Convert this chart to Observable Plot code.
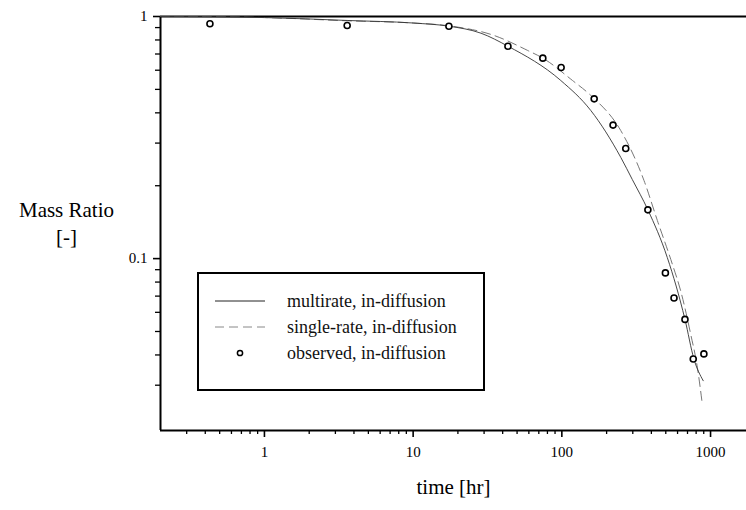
<!DOCTYPE html>
<html>
<head>
<meta charset="utf-8">
<script src="https://cdn.jsdelivr.net/npm/d3@7"></script>
<script src="https://cdn.jsdelivr.net/npm/@observablehq/plot@0.6"></script>
<style>
  html, body { margin: 0; padding: 0; background: #fff; }
  #wrap { position: relative; width: 746px; height: 510px; font-family: 'Liberation Serif', 'Times New Roman', serif; }
  #legend { position: absolute; left: 197px; top: 272px; width: 284px; height: 115px; border: 2px solid #000; background: #fff; }
  .row { position: absolute; left: 0; height: 26px; width: 100%; }
  .row svg { position: absolute; left: 16px; top: 0; }
  .row span { position: absolute; left: 88px; top: 1px; font-size: 18px; line-height: 24px; color: #111; white-space: nowrap; }
</style>
</head>
<body>
<div id="wrap"></div>
<script>
// Observed data
const obsTime = [0.43, 3.6, 17.4, 43.4, 74.5, 98.9, 165, 221, 269, 379, 497, 568, 673, 765, 902];
const obsMass = [0.933, 0.918, 0.912, 0.754, 0.673, 0.616, 0.457, 0.356, 0.285, 0.159, 0.0873, 0.0688, 0.0561, 0.0385, 0.0404];

// Multirate model curve
const multiTime = [0.2, 0.44, 1, 3.6, 10, 17.4, 28.6, 43.4, 98.4, 156.6, 249, 298, 379, 512, 673, 773, 893];
const multiMass = [1.0, 0.997, 0.99, 0.963, 0.94, 0.912, 0.853, 0.754, 0.544, 0.409, 0.262, 0.212, 0.159, 0.101, 0.0561, 0.0385, 0.0313];

// Single-rate model curve
const singleTime = [0.2, 0.44, 1, 3.6, 10, 17.4, 35, 58.9, 74.5, 118, 156.6, 249, 357, 439, 553, 629, 734, 815, 880];
const singleMass = [1.0, 0.997, 0.99, 0.96, 0.94, 0.915, 0.835, 0.724, 0.673, 0.544, 0.472, 0.338, 0.21, 0.1436, 0.095, 0.0738, 0.049, 0.0356, 0.0251];

// Axes
const xMajorTicks = [1, 10, 100, 1000];
const xMinorTicks = [0.3, 0.4, 0.5, 0.6, 0.7, 0.8, 0.9, 2, 3, 4, 5, 6, 7, 8, 9, 20, 30, 40, 50, 60, 70, 80, 90, 200, 300, 400, 500, 600, 700, 800, 900];
const yMajorTicks = [1, 0.1];
const yMinorTicks = [0.9, 0.8, 0.7, 0.6, 0.5, 0.4, 0.3, 0.2, 0.09, 0.08, 0.07, 0.06, 0.05, 0.04, 0.03];
const xDomain = [0.2, 1745];
const yDomain = [0.0195, 1];

const legendLabels = ["multirate, in-diffusion", "single-rate, in-diffusion", "observed, in-diffusion"];
const xTitle = "time [hr]";
const yTitle = "Mass Ratio\n[-]";

const obs = obsTime.map((t, i) => ({t, m: obsMass[i]}));
const multi = multiTime.map((t, i) => ({t, m: multiMass[i]}));
const single = singleTime.map((t, i) => ({t, m: singleMass[i]}));

const chart = Plot.plot({
  width: 746,
  height: 510,
  marginLeft: 160,
  marginRight: 0,
  marginTop: 16,
  marginBottom: 80,
  style: { fontFamily: "'Liberation Serif', 'Times New Roman', serif", fontSize: "15px", background: "#fff", color: "#000", overflow: "visible" },
  x: { type: "log", domain: xDomain },
  y: { type: "log", domain: yDomain },
  marks: [
    Plot.axisX(xMajorTicks, { tickSize: 7, tickPadding: 9, tickFormat: d => String(d), strokeWidth: 1.6, label: null, fontSize: 15 }),
    Plot.axisX(xMinorTicks, { tickSize: 4, tickFormat: () => "", strokeWidth: 1.3, label: null }),
    Plot.axisY(yMajorTicks, { tickSize: 7, tickPadding: 6, tickFormat: d => String(d), strokeWidth: 1.6, label: null, fontSize: 15 }),
    Plot.axisY(yMinorTicks, { tickSize: 5, tickFormat: () => "", strokeWidth: 1.3, label: null }),
    Plot.ruleX([xDomain[0]], { stroke: "#000", strokeWidth: 2 }),
    Plot.ruleY([yDomain[0]], { stroke: "#000", strokeWidth: 2 }),
    Plot.ruleY([yDomain[1]], { stroke: "#000", strokeWidth: 2 }),
    Plot.line(single, { x: "t", y: "m", stroke: "#777", strokeWidth: 1, strokeDasharray: "9,5", curve: "monotone-x" }),
    Plot.line(multi, { x: "t", y: "m", stroke: "#333", strokeWidth: 0.9, curve: "monotone-x" }),
    Plot.dot(obs, { x: "t", y: "m", r: 3, stroke: "#000", strokeWidth: 1.6, fill: "#fff" }),
    Plot.text([yTitle], { text: d => d, frameAnchor: "left", textAnchor: "middle", dx: -94, dy: -2, fontSize: 21, lineHeight: 1.28, fill: "#000" }),
    Plot.text([xTitle], { text: d => d, frameAnchor: "bottom", dy: 63, fontSize: 21, fill: "#000" })
  ]
});

const wrap = document.getElementById("wrap");
wrap.appendChild(chart);

// Legend
const legend = document.createElement("div");
legend.id = "legend";
const rowTops = [14, 40, 66];
legendLabels.forEach((lab, i) => {
  const row = document.createElement("div");
  row.className = "row";
  row.style.top = rowTops[i] + "px";
  let sample = "";
  if (i === 0) sample = `<line x1="0" y1="13" x2="50" y2="13" stroke="#222" stroke-width="1"/>`;
  if (i === 1) sample = `<line x1="0" y1="13" x2="50" y2="13" stroke="#888" stroke-width="1" stroke-dasharray="9,5"/>`;
  if (i === 2) sample = `<circle cx="25" cy="13" r="2.6" fill="#fff" stroke="#000" stroke-width="1.5"/>`;
  row.innerHTML = `<svg width="56" height="26">${sample}</svg><span>${lab}</span>`;
  legend.appendChild(row);
});
wrap.appendChild(legend);
</script>
</body>
</html>
